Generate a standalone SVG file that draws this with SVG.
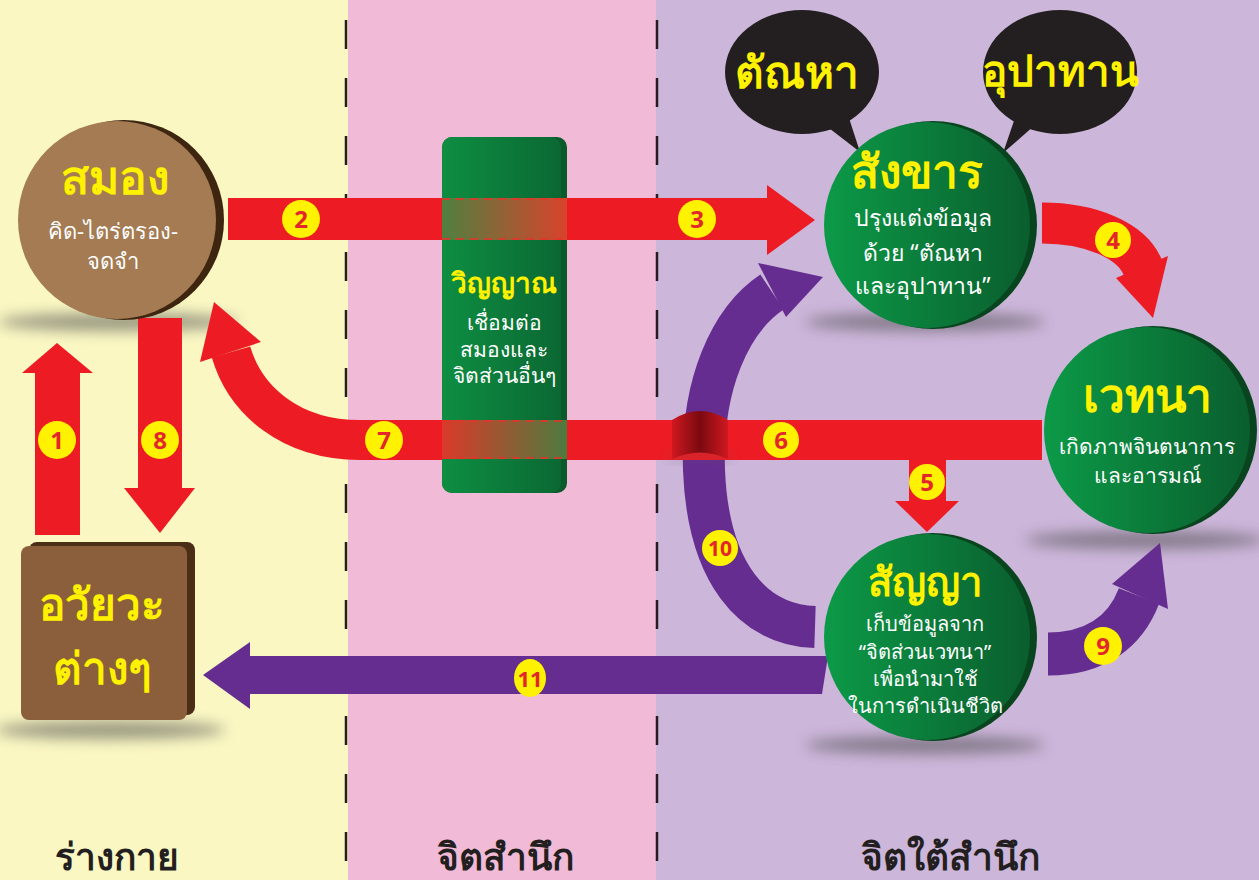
<svg xmlns="http://www.w3.org/2000/svg" width="1259" height="880" viewBox="0 0 1259 880">
<defs>
<style>
.t{font-family:"Noto Sans","DejaVu Sans",sans-serif;text-anchor:middle}
.title{fill:#FFF200;font-weight:bold}
.sub{fill:#FFFFFF;font-size:21px}
.num{fill:#E3262B;font-weight:bold;font-size:24px}
.lab{fill:#FFF200}
.band{fill:none;stroke:#ED1C24}
.pband{fill:none;stroke:#662D91}
.red{fill:#ED1C24}
.pur{fill:#662D91}
.dash{stroke:#231F20;stroke-width:2.5;stroke-dasharray:29 29}
.bot{fill:#231F20;font-size:37px;font-weight:bold}
</style>
<linearGradient id="green" x1="0" y1="0" x2="1" y2="0">
<stop offset="0" stop-color="#0C9A47"/><stop offset="1" stop-color="#0A5E2E"/>
</linearGradient>
<linearGradient id="pillar" x1="0" y1="0" x2="1" y2="0">
<stop offset="0" stop-color="#0E8E42"/><stop offset="1" stop-color="#0B6833"/>
</linearGradient>
<linearGradient id="bandA" x1="0" y1="0" x2="1" y2="0">
<stop offset="0" stop-color="#4F8040"/><stop offset="1" stop-color="#D8432B"/>
</linearGradient>
<linearGradient id="bandB" x1="0" y1="0" x2="1" y2="0">
<stop offset="0" stop-color="#DA3A2A"/><stop offset="1" stop-color="#4E7B3E"/>
</linearGradient>
<linearGradient id="ribbon" x1="0" y1="0" x2="1" y2="0">
<stop offset="0" stop-color="#D01820"/><stop offset="0.5" stop-color="#7A0A10"/><stop offset="1" stop-color="#D01820"/>
</linearGradient>
<filter id="blur" x="-30%" y="-100%" width="160%" height="300%"><feGaussianBlur stdDeviation="7"/></filter>
</defs>

<!-- backgrounds -->
<rect x="0" y="0" width="348" height="880" fill="#FAF7C3"/>
<rect x="348" y="0" width="308" height="880" fill="#F1BAD6"/>
<rect x="656" y="0" width="603" height="880" fill="#CCB6DA"/>
<line class="dash" x1="346" y1="20" x2="346" y2="880"/>
<line class="dash" x1="657" y1="20" x2="657" y2="880"/>

<!-- shadows -->
<g fill="#4A4A4A" opacity="0.55" filter="url(#blur)">
<ellipse cx="118" cy="322" rx="120" ry="9"/>
<ellipse cx="110" cy="730" rx="115" ry="9"/>
<ellipse cx="925" cy="322" rx="120" ry="9"/>
<ellipse cx="1145" cy="540" rx="120" ry="9"/>
<ellipse cx="925" cy="745" rx="120" ry="9"/>
</g>

<!-- connectors -->
<g id="connectors">
<!-- 10 purple arc (under red band 6) -->
<path class="pband" stroke-width="42" d="M 815 627 C 752 625 708 572 704 470 C 701 385 730 320 772 292"/>
<polygon class="pur" points="758,263 823,277 786,317"/>
<!-- 11 -->
<path class="pur" d="M 828 656 L 822 694 L 250 694 L 250 709 L 203 675 L 250 642 L 250 656 Z"/>
<!-- 9 -->
<path class="pband" stroke-width="43" d="M 1048 654 C 1098 654 1126 630 1139 596"/>
<polygon class="pur" points="1112,584 1160,543 1168,609"/>
<!-- 1 -->
<rect class="red" x="35" y="372" width="45" height="163"/>
<polygon class="red" points="22,373 57,343 93,373"/>
<!-- 8 -->
<rect class="red" x="138" y="318" width="44" height="172"/>
<polygon class="red" points="124,488 160,533 195,488"/>
<!-- 2/3 -->
<rect class="red" x="228" y="198" width="541" height="42"/>
<polygon class="red" points="767,185 815,220 767,255"/>
<!-- 4 -->
<path class="band" stroke-width="41" d="M 1042 223 C 1090 223 1132 240 1143 268"/>
<polygon class="red" points="1116,278 1153,318 1168,256"/>
<!-- 6/7 -->
<path class="band" stroke-width="40" d="M 1042 440 L 360 440 C 290 440 245 400 231 352"/>
<polygon class="red" points="200,362 214,302 261,342"/>
<!-- 5 -->
<rect class="red" x="909" y="458" width="37" height="44"/>
<polygon class="red" points="895,501 927,532 959,501"/>
<!-- crossing ribbon -->
<path d="M 672 459 Q 700 446 728 459" fill="none" stroke="#555" stroke-width="4" opacity="0.6" filter="url(#blur)"/>
<path d="M 672 420 Q 700 402 728 420 L 728 459 Q 700 446 672 459 Z" fill="url(#ribbon)"/>
<!-- labels -->
<g class="lab">
<circle cx="57" cy="440" r="19"/>
<circle cx="160" cy="440" r="19"/>
<circle cx="301" cy="219" r="19"/>
<circle cx="697" cy="219" r="19"/>
<circle cx="1113" cy="240" r="18"/>
<circle cx="927" cy="482" r="18"/>
<circle cx="781" cy="440" r="18"/>
<circle cx="384" cy="440" r="19"/>
<circle cx="1103" cy="646" r="19"/>
<circle cx="720" cy="548" r="18"/>
<ellipse cx="530" cy="678" rx="16" ry="19"/>
</g>
<g class="t num">
<text x="57" y="449">1</text>
<text x="160" y="449">8</text>
<text x="301" y="228">2</text>
<text x="697" y="228">3</text>
<text x="1113" y="249">4</text>
<text x="927" y="491">5</text>
<text x="781" y="449">6</text>
<text x="384" y="449">7</text>
<text x="1103" y="655">9</text>
<text x="720" y="556" style="font-size:21px">10</text>
<text x="530" y="687" style="font-size:22px">11</text>
</g>
</g>

<!-- สมอง -->
<g id="brain">
<circle cx="124" cy="220" r="100" fill="#3D2510"/>
<circle cx="117" cy="220" r="99" fill="#A47B52"/>
<text class="t title" x="115" y="194" font-size="46">สมอง</text>
<text class="t sub" x="113" y="239" style="font-size:22px">คิด-ไตร่ตรอง-</text>
<text class="t sub" x="113" y="269" style="font-size:22px">จดจำ</text>
</g>

<!-- อวัยวะต่างๆ -->
<g id="organs">
<rect x="29" y="542" width="166" height="173" rx="8" fill="#4A2E16"/>
<rect x="21" y="546" width="166" height="174" rx="8" fill="#8B5E3C"/>
<text class="t title" x="102" y="620" font-size="44">อวัยวะ</text>
<text class="t title" x="102" y="684" font-size="44">ต่างๆ</text>
</g>

<!-- วิญญาณ pillar -->
<g id="consciousness">
<rect x="442" y="137" width="125" height="356" rx="10" fill="#0A5A2C"/>
<rect x="442" y="137" width="119" height="356" rx="10" fill="url(#pillar)"/>
<rect x="442" y="198" width="125" height="42" fill="url(#bandA)"/>
<rect x="442" y="420" width="125" height="39" fill="url(#bandB)"/>
<g stroke="#E8322A" stroke-width="1.5" stroke-dasharray="8 6">
<line x1="442" y1="199" x2="567" y2="199"/><line x1="442" y1="239" x2="567" y2="239"/>
<line x1="442" y1="421" x2="567" y2="421"/><line x1="442" y1="458" x2="567" y2="458"/>
</g>
<text class="t title" x="504" y="293" font-size="28">วิญญาณ</text>
<text class="t sub" x="504" y="330">เชื่อมต่อ</text>
<text class="t sub" x="504" y="357">สมองและ</text>
<text class="t sub" x="504" y="383">จิตส่วนอื่นๆ</text>
</g>

<!-- ตัณหา bubble -->
<g id="tanha">
<ellipse cx="802" cy="72" rx="77" ry="62" fill="#231F20"/>
<path d="M 825 125 L 860 152 L 848 115 Z" fill="#231F20"/>
<text class="t title" x="797" y="88" font-size="44">ตัณหา</text>
</g>
<!-- อุปาทาน bubble -->
<g id="upadana">
<ellipse cx="1060" cy="72" rx="77" ry="62" fill="#231F20"/>
<path d="M 1035 125 L 1003 153 L 1016 115 Z" fill="#231F20"/>
<text class="t title" x="1060" y="86" font-size="42">อุปาทาน</text>
</g>

<!-- สังขาร -->
<g id="sankhara">
<circle cx="933" cy="225" r="104" fill="#08451F"/>
<circle cx="927" cy="225" r="103" fill="url(#green)"/>
<text class="t title" x="917" y="188" font-size="46">สังขาร</text>
<text class="t sub" x="923" y="226" style="font-size:23px">ปรุงแต่งข้อมูล</text>
<text class="t sub" x="923" y="261" style="font-size:23px">ด้วย “ตัณหา</text>
<text class="t sub" x="923" y="294" style="font-size:23px">และอุปาทาน”</text>
</g>

<!-- เวทนา -->
<g id="vedana">
<circle cx="1153" cy="430" r="104" fill="#08451F"/>
<circle cx="1147" cy="430" r="103" fill="url(#green)"/>
<text class="t title" x="1147" y="412" font-size="46">เวทนา</text>
<text class="t sub" x="1147" y="454" style="font-size:21px">เกิดภาพจินตนาการ</text>
<text class="t sub" x="1147" y="483" style="font-size:21px">และอารมณ์</text>
</g>

<!-- สัญญา -->
<g id="sanna">
<circle cx="933" cy="637" r="104" fill="#08451F"/>
<circle cx="927" cy="637" r="103" fill="url(#green)"/>
<text class="t title" x="925" y="596" font-size="40">สัญญา</text>
<text class="t sub" x="925" y="631" style="font-size:20px">เก็บข้อมูลจาก</text>
<text class="t sub" x="925" y="659" style="font-size:20px">“จิตส่วนเวทนา”</text>
<text class="t sub" x="925" y="686" style="font-size:20px">เพื่อนำมาใช้</text>
<text class="t sub" x="925" y="713" style="font-size:20px">ในการดำเนินชีวิต</text>
</g>

<!-- zone labels -->
<g id="zones">
<text class="t bot" x="117" y="870">ร่างกาย</text>
<text class="t bot" x="505" y="870">จิตสำนึก</text>
<text class="t bot" x="950" y="870">จิตใต้สำนึก</text>
</g>
</svg>
